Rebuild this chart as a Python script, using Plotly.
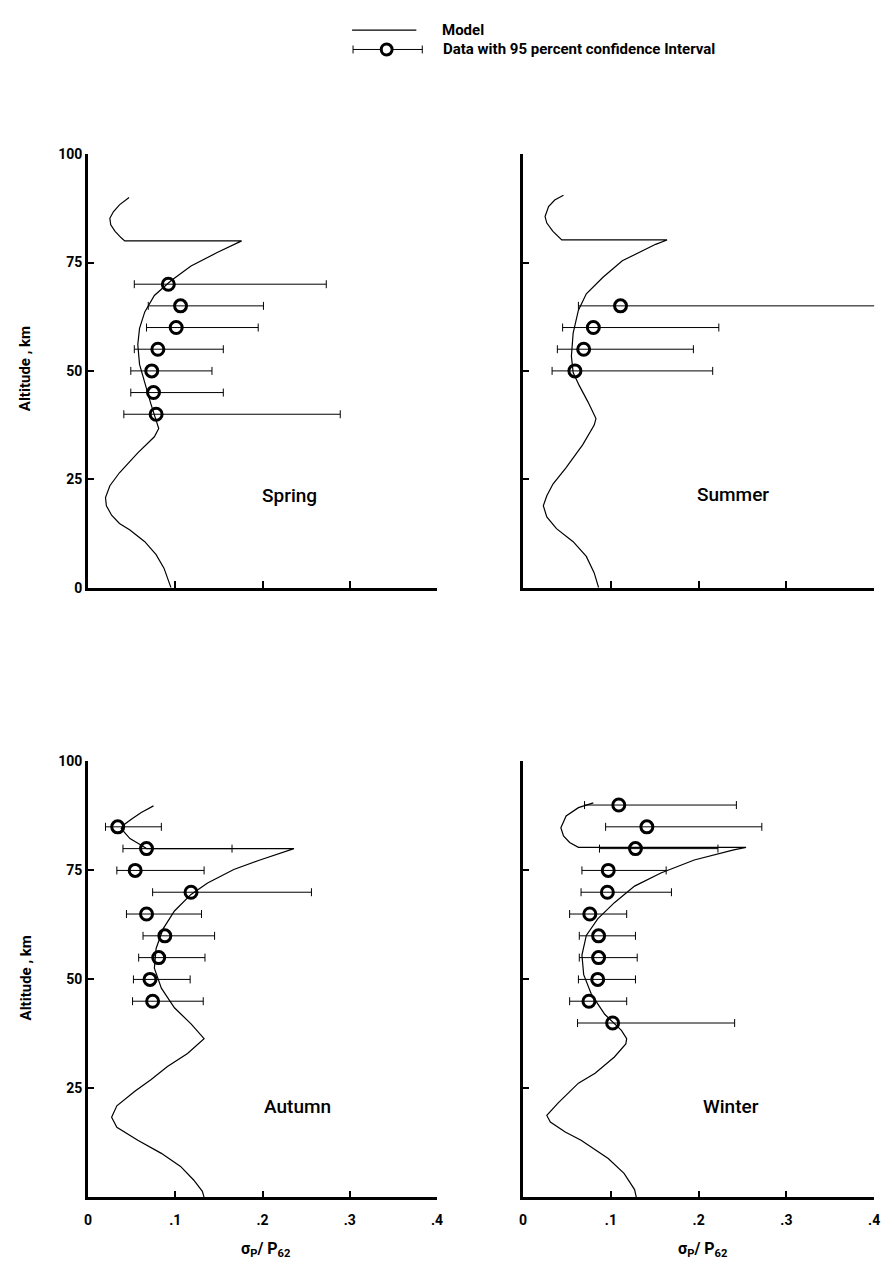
import plotly.graph_objects as go

W, H = 894, 1276

# ---------------- data ----------------
# Spring
spring_model_val = [0.047, 0.036, 0.029, 0.025, 0.026, 0.031, 0.038, 0.042, 0.176, 0.163, 0.148, 0.118,
                    0.095, 0.076, 0.065, 0.059, 0.057, 0.059, 0.065, 0.072, 0.078, 0.081, 0.076, 0.057,
                    0.036, 0.025, 0.020, 0.021, 0.027, 0.036, 0.048, 0.065, 0.078, 0.087, 0.095]
spring_model_alt = [90, 88.3, 86.7, 85.2, 83.7, 82.2, 80.7, 80, 80, 78.8, 77.3, 74.2,
                    70.8, 67.4, 63.6, 59.8, 56.1, 51.5, 47, 42.4, 38.6, 36.7, 34.8, 31.1,
                    26.5, 23.5, 20.8, 18.9, 16.7, 14.8, 13.3, 10.6, 7.6, 4.5, 0]
spring_alt = [70, 65, 60, 55, 50, 45, 40]
spring_val = [0.092, 0.106, 0.101, 0.080, 0.073, 0.075, 0.078]
spring_lo = [0.053, 0.069, 0.067, 0.053, 0.049, 0.049, 0.041]
spring_hi = [0.273, 0.201, 0.195, 0.155, 0.142, 0.155, 0.289]

# Summer
summer_model_val = [0.046, 0.036, 0.029, 0.025, 0.027, 0.034, 0.044, 0.164, 0.151, 0.132, 0.113, 0.091,
                    0.072, 0.063, 0.057, 0.055, 0.057, 0.064, 0.074, 0.083, 0.081, 0.068, 0.049, 0.034,
                    0.027, 0.023, 0.027, 0.038, 0.057, 0.072, 0.081, 0.086]
summer_model_alt = [90.5, 89.4, 87.9, 85.6, 84.1, 82.2, 80.2, 80.2, 79.2, 77.3, 75.4, 71.6,
                    67.8, 64, 58.7, 53.4, 49.6, 46.6, 42.8, 39, 37.5, 33, 27.7, 23.9,
                    21.2, 18.9, 16.3, 13.6, 10.6, 7.2, 3.4, 0]
summer_alt = [65, 60, 55, 50]
summer_val = [0.111, 0.080, 0.069, 0.059]
summer_lo = [0.063, 0.045, 0.039, 0.033]
summer_hi = [0.411, 0.223, 0.194, 0.216]

# Autumn
autumn_model_val = [0.075, 0.061, 0.050, 0.040, 0.038, 0.048, 0.061, 0.067, 0.236, 0.219, 0.197, 0.167,
                    0.137, 0.118, 0.099, 0.086, 0.078, 0.076, 0.084, 0.099, 0.118, 0.133, 0.114, 0.091,
                    0.072, 0.054, 0.033, 0.027, 0.033, 0.057, 0.084, 0.106, 0.121, 0.131, 0.133]
autumn_model_alt = [89.8, 88.3, 86.8, 85.3, 84.6, 82.3, 80.8, 80, 80, 78.9, 77.4, 75.2,
                    72.1, 69.5, 65.7, 61.6, 57.1, 52.6, 48, 43.5, 39.8, 36.4, 33, 30,
                    27, 24.4, 21, 18.4, 16.1, 13.1, 10.1, 7.1, 4, 1.4, 0]
autumn_alt = [85, 80, 75, 70, 65, 60, 55, 50, 45]
autumn_val = [0.034, 0.067, 0.054, 0.118, 0.067, 0.088, 0.081, 0.071, 0.074]
autumn_lo = [0.020, 0.040, 0.033, 0.074, 0.044, 0.063, 0.058, 0.052, 0.051]
autumn_hi = [0.084, 0.165, 0.133, 0.256, 0.130, 0.145, 0.134, 0.117, 0.132]

# Winter
winter_model_val = [0.080, 0.063, 0.049, 0.043, 0.046, 0.053, 0.063, 0.254, 0.240, 0.195, 0.157, 0.127,
                    0.104, 0.085, 0.072, 0.067, 0.069, 0.078, 0.093, 0.112, 0.118, 0.117, 0.104, 0.082,
                    0.063, 0.040, 0.027, 0.031, 0.048, 0.066, 0.097, 0.115, 0.127, 0.129]
winter_model_alt = [90.5, 89.4, 87.5, 84.8, 82.9, 81.4, 80.3, 80.3, 79.7, 77.4, 74.4, 71.4,
                    67.6, 63.9, 60.1, 55.6, 51.1, 46.5, 42, 38.3, 36.4, 35.2, 32.2, 28.5,
                    26.2, 21.7, 18.8, 17.3, 15, 13.1, 8.9, 5.5, 1.8, 0]
winter_alt = [90, 85, 80, 75, 70, 65, 60, 55, 50, 45, 40]
winter_val = [0.109, 0.141, 0.128, 0.097, 0.096, 0.076, 0.086, 0.086, 0.085, 0.075, 0.102]
winter_lo = [0.070, 0.094, 0.087, 0.067, 0.066, 0.053, 0.064, 0.064, 0.063, 0.053, 0.062]
winter_hi = [0.243, 0.272, 0.222, 0.163, 0.169, 0.118, 0.128, 0.130, 0.128, 0.118, 0.241]

seasons = ["Spring", "Summer", "Autumn", "Winter"]
x_tick_vals = [0, 0.1, 0.2, 0.3, 0.4]
x_tick_text = ["0", ".1", ".2", ".3", ".4"]
y_tick_vals = [0, 25, 50, 75, 100]
y_tick_text = ["0", "25", "50", "75", "100"]
legend_labels = ["Model", "Data with 95 percent confidence Interval"]
x_title = "\u03c3<sub>P</sub>/ P<sub>62</sub>"
y_title = "Altitude , km"

# ---------------- layout helpers ----------------
FONT = "Roboto, Liberation Sans, DejaVu Sans, sans-serif"


def px(x):
    return x / W


def py(y):
    return 1 - y / H


LEFT_X = [px(85), px(438)]
RIGHT_X = [px(525), px(880)]
TOP_Y = [py(587), py(148)]
BOT_Y = [py(1204.5), py(763)]

panels = [
    (spring_model_val, spring_model_alt, spring_val, spring_alt, spring_lo, spring_hi, LEFT_X, TOP_Y),
    (summer_model_val, summer_model_alt, summer_val, summer_alt, summer_lo, summer_hi, RIGHT_X, TOP_Y),
    (autumn_model_val, autumn_model_alt, autumn_val, autumn_alt, autumn_lo, autumn_hi, LEFT_X, BOT_Y),
    (winter_model_val, winter_model_alt, winter_val, winter_alt, winter_lo, winter_hi, RIGHT_X, BOT_Y),
]

TICKFONT = dict(family=FONT, size=14, color="black", weight="bold")

fig = go.Figure()
layout = dict(
    width=W, height=H, autosize=False,
    margin=dict(l=0, r=0, t=0, b=0),
    paper_bgcolor="white", plot_bgcolor="white",
    showlegend=False,
    font=dict(family=FONT, color="black", size=15),
)

for i, (mv, ma, dv, da, lo, hi, xd, yd) in enumerate(panels):
    n = i + 1
    xa = "x" if n == 1 else f"x{n}"
    ya = "y" if n == 1 else f"y{n}"
    fig.add_trace(go.Scatter(
        x=mv, y=ma, mode="lines", xaxis=xa, yaxis=ya,
        line=dict(color="black", width=1.2), hoverinfo="skip"))
    fig.add_trace(go.Scatter(
        x=dv, y=da, mode="markers", xaxis=xa, yaxis=ya, cliponaxis=False,
        marker=dict(symbol="circle-open", size=12, color="black",
                    line=dict(width=3, color="black")),
        error_x=dict(type="data", symmetric=False,
                     array=[h - v for h, v in zip(hi, dv)],
                     arrayminus=[v - l for v, l in zip(dv, lo)],
                     thickness=1, width=4, color="black")))

    bottom = n >= 3
    left = n in (1, 3)
    xkey = "xaxis" if n == 1 else f"xaxis{n}"
    ykey = "yaxis" if n == 1 else f"yaxis{n}"
    layout[xkey] = dict(
        domain=xd, anchor=ya, range=[0, 0.4],
        showgrid=False, zeroline=False, showline=True, linecolor="black", linewidth=2.5,
        ticks="inside", ticklen=7, tickwidth=1.5, tickcolor="black",
        tickvals=x_tick_vals if bottom else x_tick_vals[1:],
        ticktext=x_tick_text if bottom else x_tick_text[1:],
        showticklabels=bottom, ticklabelstandoff=8,
        tickfont=TICKFONT,
        fixedrange=True,
    )
    if left:
        tv = y_tick_vals if n == 1 else y_tick_vals[1:]
        tt = y_tick_text if n == 1 else y_tick_text[1:]
    else:
        tv, tt = y_tick_vals, y_tick_text
    layout[ykey] = dict(
        domain=yd, anchor=xa, range=[0, 100],
        showgrid=False, zeroline=False, showline=True, linecolor="black", linewidth=3,
        ticks="inside", ticklen=6, tickwidth=1.5, tickcolor="black",
        tickvals=tv, ticktext=tt, showticklabels=left,
        tickfont=TICKFONT,
        fixedrange=True,
    )

fig.update_layout(**layout)


def note(x, y, text, size, xanchor="center", angle=0, weight="bold"):
    return dict(xref="paper", yref="paper", x=px(x), y=py(y), text=text, showarrow=False,
                xanchor=xanchor, yanchor="middle", textangle=angle,
                font=dict(family=FONT, size=size, color="black", weight=weight))


annotations = []
# season labels (centred on their positions in each panel)
season_px = [(289, 494), (737, 493), (297, 1112), (735, 1112)]
for name, (sx, sy) in zip(seasons, season_px):
    annotations.append(note(sx, sy, name, 19, weight=500))
# axis titles
for yc in (365, 982):
    annotations.append(note(22, yc, y_title, 15, angle=-90))
for xc in (264, 706):
    annotations.append(note(xc, 1257, x_title, 16))
# legend text
annotations.append(note(441, 22, legend_labels[0], 15, xanchor="left"))
annotations.append(note(442, 42, legend_labels[1], 15, xanchor="left"))

shapes = []
# legend samples
shapes.append(dict(type="line", xref="paper", yref="paper", x0=px(352), x1=px(417), y0=py(22.5), y1=py(22.5),
                   line=dict(color="black", width=1.2)))
shapes.append(dict(type="line", xref="paper", yref="paper", x0=px(353), x1=px(423), y0=py(42), y1=py(42),
                   line=dict(color="black", width=1)))
for cx in (353, 423):
    shapes.append(dict(type="line", xref="paper", yref="paper", x0=px(cx), x1=px(cx), y0=py(38), y1=py(46),
                       line=dict(color="black", width=1)))
r = 5.5
shapes.append(dict(type="circle", xref="paper", yref="paper", x0=px(387 - r), x1=px(387 + r),
                   y0=py(42 + r), y1=py(42 - r), fillcolor="white",
                   line=dict(color="black", width=3)))

fig.update_layout(annotations=annotations, shapes=shapes)
fig.write_html("out.html")
